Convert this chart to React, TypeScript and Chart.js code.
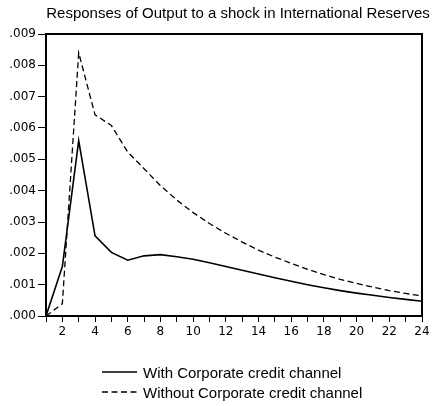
import React, { useEffect, useRef } from "react";
import { Chart, registerables } from "chart.js";

Chart.register(...registerables);

const TITLE = "Responses of Output to a shock in International Reserves";
const periods = [1, 2, 3, 4, 5, 6, 7, 8, 9, 10, 11, 12, 13, 14, 15, 16, 17, 18, 19, 20, 21, 22, 23, 24];
const withChannel = [0, 0.00158, 0.0056, 0.00256, 0.00203, 0.00178, 0.00192, 0.00196, 0.00189, 0.00181, 0.0017, 0.00158, 0.00146, 0.00134, 0.00122, 0.00111, 0.001, 0.0009, 0.00081, 0.00073, 0.00066, 0.00059, 0.00053, 0.00047];
const withoutChannel = [0, 0.00039, 0.0084, 0.00642, 0.00608, 0.00523, 0.0047, 0.00416, 0.0037, 0.0033, 0.00295, 0.00264, 0.00236, 0.0021, 0.00188, 0.00168, 0.00149, 0.00132, 0.00117, 0.00104, 0.00092, 0.00081, 0.00072, 0.00064];
const seriesNames = ["With Corporate credit channel", "Without Corporate credit channel"];
const yMin = 0;
const yMax = 0.009;
const yStep = 0.001;

const FONT = "'DejaVu Sans', sans-serif";
const TEXT_FONT = "'Liberation Sans', Arial, sans-serif";

const decorPlugin = {
  id: "decor",
  afterDraw(chart: any) {
    const { ctx, chartArea } = chart;
    ctx.save();
    // frame
    ctx.strokeStyle = "#000";
    ctx.lineWidth = 2;
    ctx.setLineDash([]);
    ctx.strokeRect(chartArea.left, chartArea.top, chartArea.right - chartArea.left, chartArea.bottom - chartArea.top);
    // title
    ctx.fillStyle = "#000";
    ctx.font = "15px " + TEXT_FONT;
    ctx.textAlign = "center";
    ctx.textBaseline = "alphabetic";
    ctx.fillText(TITLE, 238, 17.5);
    // legend
    const rows = [
      { y: 372, dash: [] as number[], width: 1.5 },
      { y: 392, dash: [6, 3.5], width: 1.3 },
    ];
    rows.forEach((r, i) => {
      ctx.beginPath();
      ctx.setLineDash(r.dash);
      ctx.lineWidth = r.width;
      ctx.moveTo(102, r.y);
      ctx.lineTo(137, r.y);
      ctx.stroke();
      ctx.setLineDash([]);
      ctx.textAlign = "left";
      ctx.textBaseline = "alphabetic";
      ctx.font = "15px " + TEXT_FONT;
      ctx.fillText(seriesNames[i], 143, r.y + 5.7);
    });
    ctx.restore();
  },
};

export default function App() {
  const ref = useRef<HTMLCanvasElement | null>(null);
  useEffect(() => {
    if (!ref.current) return;
    Chart.defaults.font.family = FONT;
    const chart = new Chart(ref.current, {
      type: "line",
      data: {
        labels: periods.map(String),
        datasets: [
          {
            label: seriesNames[0],
            data: withChannel,
            borderColor: "#000",
            borderWidth: 1.6,
            pointRadius: 0,
            tension: 0,
            fill: false,
          },
          {
            label: seriesNames[1],
            data: withoutChannel,
            borderColor: "#000",
            borderWidth: 1.3,
            borderDash: [6, 3.5],
            pointRadius: 0,
            tension: 0,
            fill: false,
          },
        ],
      },
      options: {
        responsive: false,
        animation: false,
        layout: { padding: { left: 0, right: 12, top: 34, bottom: 60 } },
        plugins: { legend: { display: false }, title: { display: false }, tooltip: { enabled: false } },
        scales: {
          x: {
            type: "category",
            offset: false,
            border: { display: false },
            grid: { drawOnChartArea: false, drawTicks: true, tickLength: 6, color: "#000", lineWidth: 1 },
            ticks: {
              autoSkip: false,
              maxRotation: 0,
              padding: 3,
              color: "#000",
              font: { size: 12, family: FONT },
              callback: (_v: any, i: number) => (periods[i] % 2 === 0 ? String(periods[i]) : ""),
            },
            afterFit: (s: any) => {
              s.height = 30;
            },
          },
          y: {
            min: yMin,
            max: yMax,
            border: { display: false },
            grid: { drawOnChartArea: false, drawTicks: true, tickLength: 8, color: "#000", lineWidth: 1 },
            ticks: {
              stepSize: yStep,
              padding: 2,
              color: "#000",
              font: { size: 12, family: FONT },
              callback: (v: any) => Number(v).toFixed(3).replace(/^0/, ""),
            },
            afterFit: (s: any) => {
              s.width = 46;
            },
          },
        },
      },
      plugins: [decorPlugin],
    } as any);
    return () => chart.destroy();
  }, []);
  return (
    <div style={{ position: "fixed", left: 0, top: 0, width: 434, height: 406, background: "#fff" }}>
      <canvas ref={ref} width={434} height={406} style={{ display: "block" }} />
    </div>
  );
}
